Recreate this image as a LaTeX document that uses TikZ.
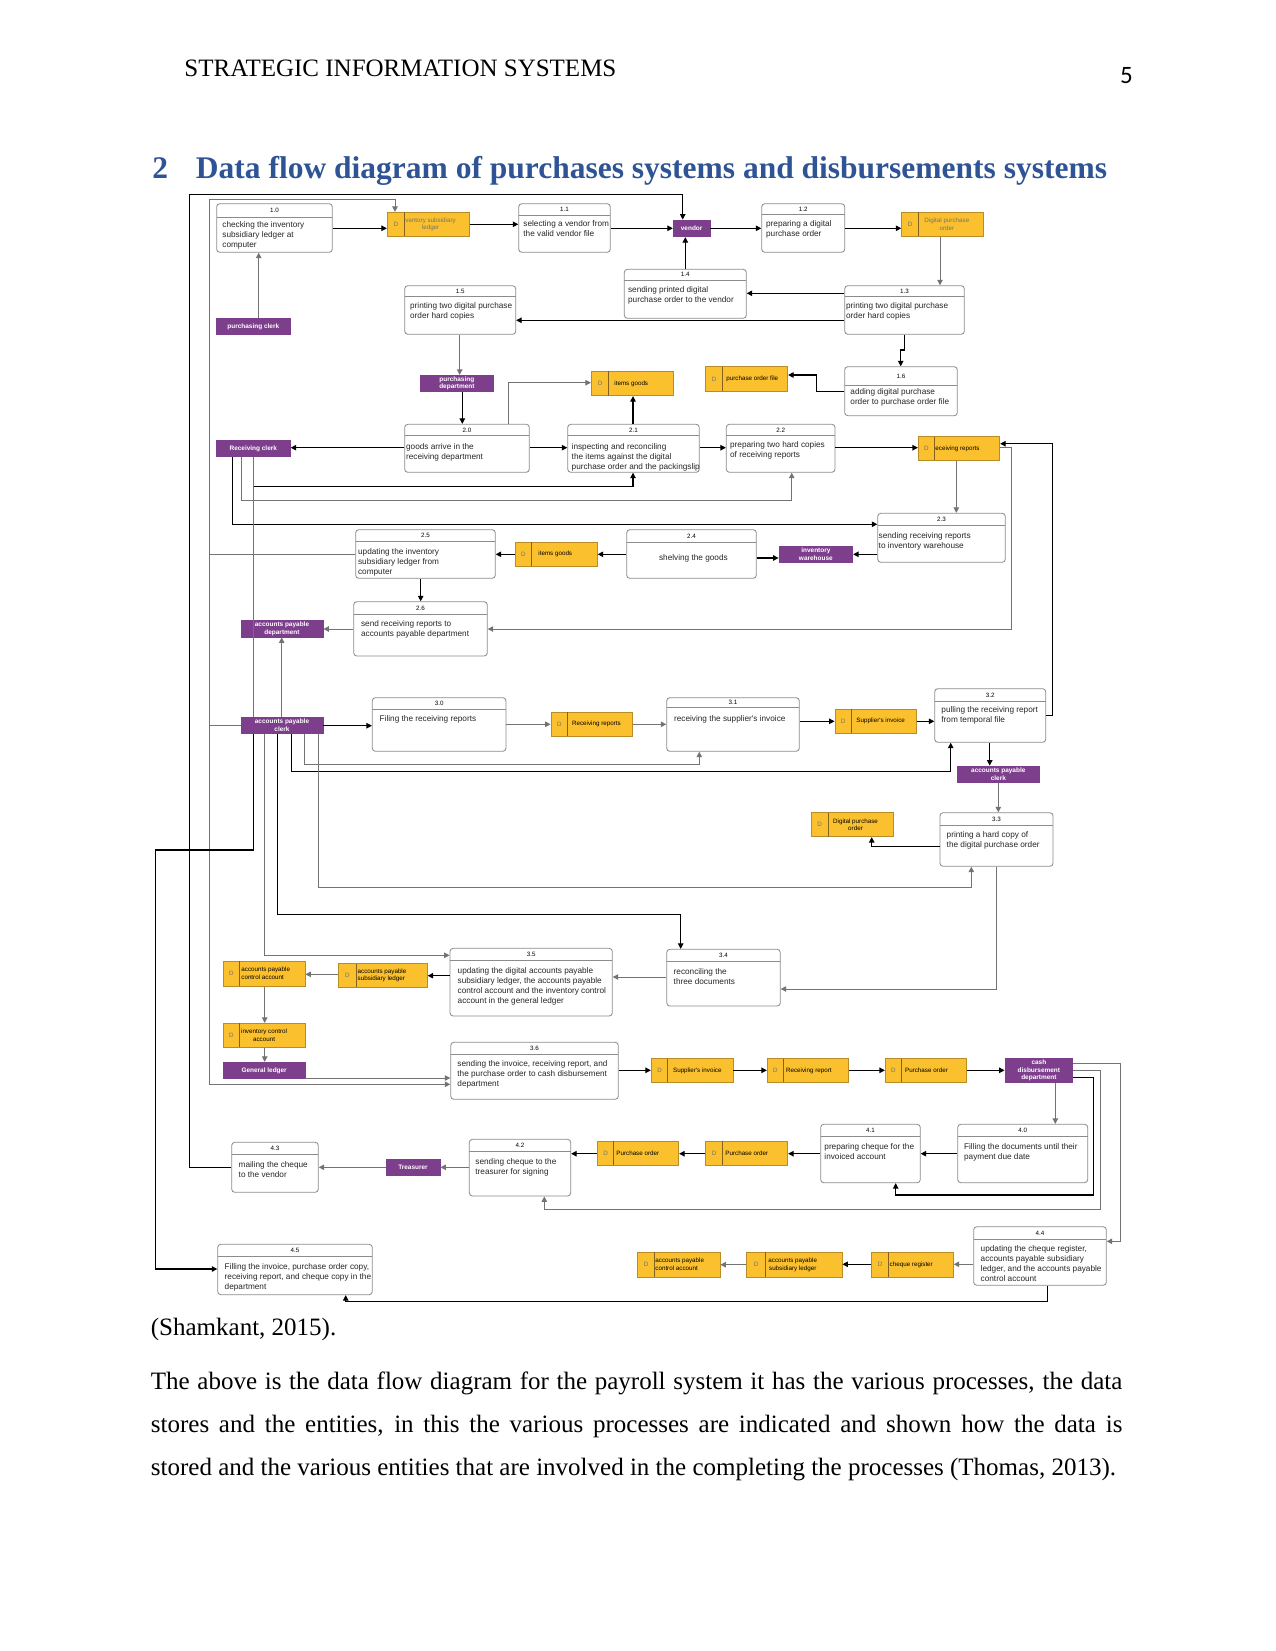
\documentclass[tikz,border=0pt]{standalone}
\usepackage{fontspec}
\setmainfont{Liberation Serif}
\newfontfamily\dsans{Liberation Sans}
\newfontfamily\calib{Carlito}
\usetikzlibrary{arrows.meta,fit}
\definecolor{hblue}{RGB}{47,84,150}
\definecolor{sty}{RGB}{251,192,45}
\definecolor{stb}{RGB}{185,140,40}
\definecolor{ent}{RGB}{125,62,140}
\tikzset{
 ln/.style={line width=0.5pt, draw=black},
 lg/.style={line width=0.45pt, draw=black!55},
 ar/.style={-{Triangle[length=2.6pt,width=2.6pt]}},
 pbox/.style={draw=black!45, line width=0.4pt, rounded corners=1.5pt, inner sep=0pt, fill=white},
 sbox/.style={draw=stb, fill=sty, line width=0.4pt, inner sep=0pt},
 ebox/.style={fill=ent, draw=ent, inner sep=0pt},
 ptxt/.style={inner sep=0pt, font=\dsans\fontsize{3.95}{4.8}\selectfont, text=black!85},
 ntxt/.style={inner sep=0pt, font=\dsans\fontsize{3}{3.6}\selectfont},
 stxt/.style={inner sep=0pt, font=\dsans\fontsize{3}{3.6}\selectfont, align=center},
 etxt/.style={inner sep=0pt, font=\dsans\bfseries\fontsize{3.1}{3.6}\selectfont, text=white, align=center},
}
\newcommand\tl[1]{\begin{tabular}[t]{@{}l@{}}#1\end{tabular}}
\newcommand\proc[9]{%
 \node[pbox, fit={(#2,#3)(#4,#5)}] (#1) {};
 \draw[black!45, line width=0.4pt] (#2,#6) -- (#4,#6);
 \node[ntxt] at ({(#2+#4)/2},{(#3+#6)/2}) {#7};
 \node[ptxt, anchor=base west] at (#8) {\tl{#9}};}
\newcommand\store[9]{%
 \node[sbox, fit={(#2,#3)(#4,#5)}] (#1) {};
 \draw[stb!70!black, line width=0.4pt] (#6,#3) -- (#6,#5);
 \node[stxt, text=black!55] at ({(#2+#6)/2},{(#3+#5)/2}) {D};
 \node[stxt, anchor=west, #8] at (#7,{(#3+#5)/2}) {#9};}
\newcommand\ent[6]{%
 \node[ebox, fit={(#2,#3)(#4,#5)}] (#1) {};
 \node[etxt] at (#1.center) {#6};}
\begin{document}
\begin{tikzpicture}[x=0.48pt,y=-0.48pt]
\useasboundingbox[fill=white] (0,0) rectangle (1275,1651);
% page header
\node[anchor=base west, inner sep=0pt, font=\fontsize{12}{14}\selectfont] (hdr) at (184,77) {STRATEGIC INFORMATION SYSTEMS};
\node[anchor=base, inner sep=0pt, font=\calib\fontsize{12}{14}\selectfont] (pg) at (1126.5,84) {5};
\node[anchor=base west, inner sep=0pt, font=\bfseries\fontsize{15.12}{18}\selectfont, text=hblue] (hnum) at (152,178.5) {2};
\node[anchor=base west, inner sep=0pt, font=\bfseries\fontsize{15.12}{18}\selectfont, text=hblue] (htitle) at (195.5,178.5) {Data flow diagram of purchases systems and disbursements systems};

% processes
\proc{p10}{216.7}{203.7}{332.3}{252.3}{217.7}{1.0}{222,227.7}{checking the inventory\\subsidiary ledger at\\computer}
\proc{p11}{518.7}{203.7}{610.3}{252.3}{215.7}{1.1}{523,227}{selecting a vendor from\\the valid vendor file}
\proc{p12}{761.7}{203.7}{844.7}{252.3}{214}{1.2}{765.7,227}{preparing a digital\\purchase order}
\proc{p13}{844.7}{285.7}{964.3}{334.3}{296.7}{1.3}{845.7,309}{printing two digital purchase\\order hard copies}
\proc{p14}{624.3}{269.3}{746.3}{318.3}{280}{1.4}{627.7,292}{sending printed digital\\purchase order to the vendor}
\proc{p15}{404.7}{285.7}{515.7}{334.3}{296.7}{1.5}{409.7,308}{printing two digital purchase\\order hard copies}
\proc{p16}{844.7}{366.7}{957.3}{415.7}{385.3}{1.6}{850,394}{adding digital purchase\\order to purchase order file}
\proc{p20}{404.7}{424.3}{529.3}{472.3}{435.7}{2.0}{405.7,449}{goods arrive in the\\receiving department}
\proc{p21}{567.7}{424.3}{699.3}{472.3}{435.7}{2.1}{571.3,449}{inspecting and reconciling\\the items against the digital\\purchase order and the packingslip}
\proc{p22}{726.3}{424.3}{835}{472.3}{435.7}{2.2}{729.7,447}{preparing two hard copies\\of receiving reports}
\proc{p23}{877.7}{513.3}{1005.3}{562.3}{525.3}{2.3}{878.3,538}{sending receiving reports\\to inventory warehouse}
\proc{p24}{626.7}{529.7}{756.3}{578.3}{542.3}{2.4}{658.7,560}{shelving the goods}
\proc{p25}{355.7}{529.7}{495.3}{578.3}{541.7}{2.5}{357.7,554.7}{updating the inventory\\subsidiary ledger from\\computer}
\proc{p26}{353.7}{601.7}{487.3}{656}{614.3}{2.6}{360.7,626.7}{send receiving reports to\\accounts payable department}
\proc{p30}{372.3}{697.7}{506}{751.3}{709}{3.0}{379.3,721.7}{Filing the receiving reports}
\proc{p31}{666.7}{697.7}{799.3}{751.3}{707}{3.1}{673.7,721.7}{receiving the supplier's invoice}
\proc{p32}{934.7}{688.7}{1045.7}{742.3}{701}{3.2}{941,712.7}{pulling the receiving report\\from temporal file}
\proc{p33}{940}{812.7}{1053}{866.3}{825.3}{3.3}{946.3,837}{printing a hard copy of\\the digital purchase order}
\proc{p34}{666.7}{949.3}{780.3}{1006}{961.3}{3.4}{673.3,974}{reconciling the\\three documents}
\proc{p35}{450}{948.3}{612.3}{1016}{960}{3.5}{457.3,973}{updating the digital accounts payable\\subsidiary ledger, the accounts payable\\control account and the inventory control\\account in the general ledger}
\proc{p36}{450.7}{1042.3}{618.3}{1099.3}{1054}{3.6}{457,1066.7}{sending the invoice, receiving report, and\\the purchase order to cash disbursement\\department}
\proc{p40}{957.7}{1124.3}{1087.7}{1182.7}{1136.7}{4.0}{963.7,1149.3}{Filling the documents until their\\payment due date}
\proc{p41}{820.7}{1124.3}{920.3}{1182.7}{1136.7}{4.1}{824,1149.3}{preparing cheque for the\\invoiced account}
\proc{p42}{469.3}{1139.3}{570.7}{1196}{1151}{4.2}{475,1164.3}{sending cheque to the\\treasurer for signing}
\proc{p43}{231.7}{1142.3}{318.3}{1192.3}{1154.3}{4.3}{238.3,1167}{mailing the cheque\\to the vendor}
\proc{p44}{973.7}{1226.7}{1106.3}{1285.3}{1239.3}{4.4}{980.3,1251}{updating the cheque register,\\accounts payable subsidiary\\ledger, and the accounts payable\\control account}
\proc{p45}{217.7}{1244.3}{372.3}{1294.7}{1256}{4.5}{224.3,1269.3}{Filling the invoice, purchase order copy,\\receiving report, and cheque copy in the\\department}

% data stores
\store{sisl}{387.3}{212.3}{469.3}{236.3}{404.3}{405}{text=black!55}{ventory subsidiary\\ledger}
\store{sdpo}{901.7}{212.3}{983}{236.3}{918.3}{924}{text=black!55}{Digital purchase\\order}
\store{spof}{705.7}{366.7}{787.7}{391.3}{722.3}{726}{}{purchase order file}
\store{sig1}{591.3}{371.3}{673.7}{395.7}{608.7}{614}{}{items goods}
\store{srr}{918.3}{436.7}{999.7}{460.3}{934.3}{935}{}{eceiving reports}
\store{sig2}{515.3}{542.3}{597.3}{566.3}{531.3}{538}{}{items goods}
\store{srr2}{551}{712.3}{632.7}{736.3}{567.7}{571.7}{}{Receiving reports}
\store{ssi}{835}{709}{916.3}{733.3}{851.3}{856}{}{Supplier's invoice}
\store{sdpo2}{811}{812.7}{893.3}{836.7}{828.3}{832.7}{}{Digital purchase\\order}
\store{sapsl}{338.3}{963.7}{427.3}{987.3}{356.7}{357.3}{}{\tl{accounts payable\\subsidiary ledger}}
\store{sapca}{223.3}{961.3}{305}{986.3}{239.3}{241}{}{\tl{accounts payable\\control account}}
\store{sica}{223.3}{1023.3}{305}{1047.3}{239.3}{240.7}{}{inventory control\\account}
\store{ssi2}{651.3}{1058.7}{733}{1082.3}{667.7}{672.7}{}{Supplier's invoice}
\store{srrep}{767.3}{1058.7}{848.7}{1082.3}{783.3}{785.7}{}{Receiving report}
\store{spo1}{885.3}{1058.7}{966.7}{1082.3}{901.3}{904.7}{}{Purchase order}
\store{spo2}{705.7}{1141.3}{787.7}{1165.3}{722.3}{725}{}{Purchase order}
\store{spo3}{597.3}{1141.3}{678.7}{1165.3}{613.7}{616}{}{Purchase order}
\store{schq}{871.7}{1252.3}{953.3}{1277}{888.7}{889.3}{}{cheque register}
\store{sapsl2}{746.7}{1252.3}{842}{1277.3}{765.3}{768}{}{accounts payable\\subsidiary ledger}
\store{sapca2}{637.7}{1252.3}{720}{1277.3}{654.3}{655}{}{\tl{accounts payable\\control account}}

% entities
\ent{evendor}{673.3}{220}{710}{236.7}{vendor}
\ent{epclerk}{216.3}{318}{290.3}{334.7}{purchasing clerk}
\ent{epdept}{420}{375.3}{493.7}{391.7}{purchasing\\department}
\ent{erclerk}{216.3}{440.3}{290.3}{456.7}{Receiving clerk}
\ent{ewh}{779}{546}{852.7}{562.7}{inventory\\warehouse}
\ent{eapdept}{241}{620.3}{323}{637}{accounts payable\\department}
\ent{eapclerk}{241}{717}{323}{733.7}{accounts payable\\clerk}
\ent{eapclerk2}{957.3}{766}{1039.3}{782.3}{accounts payable\\clerk}
\ent{egl}{223.3}{1062.3}{305}{1078.7}{General ledger}
\ent{ecash}{1005}{1058.7}{1072.7}{1082.3}{cash\\disbursement\\department}
\ent{etreas}{386}{1159.3}{440}{1175.7}{Treasurer}

% connectors
\draw[ln,ar] (p10.east |- 0,228.3) -- (sisl.west |- 0,228.3);
\draw[ln,ar] (sisl.east |- 0,224.3) -- (p11.west |- 0,224.3);
\draw[ln,ar] (p11.east |- 0,228.3) -- (evendor.west |- 0,228.3);
\draw[ln,ar] (evendor.east |- 0,228.3) -- (p12.west |- 0,228.3);
\draw[ln,ar] (p12.east |- 0,228.3) -- (sdpo.west |- 0,228.3);
\draw[lg,ar] (sdpo.south -| 940,0) -- (p13.north -| 940,0);
\draw[ln,ar] (p14.north -| 685.3,0) -- (evendor.south -| 685.3,0);
\draw[ln,ar] (p13.west |- 0,293.3) -- (p14.east |- 0,293.3);
\draw[ln,ar] (p13.west |- 0,320.3) -- (p15.east |- 0,320.3);
\draw[lg,ar] (epclerk.north -| 258.7,0) -- (p10.south -| 258.7,0);
\draw[lg,ar] (p15.south -| 459.7,0) -- (epdept.north -| 459.7,0);
\draw[ln,ar] (epdept.south -| 462.3,0) -- (p20.north -| 462.3,0);
\draw[ln,ar] (p13.south -| 904.7,0) -- (904.7,350) -- (900.7,350) -- (p16.north -| 900.7,0);
\draw[ln,ar] (p16.west |- 0,391.3) -- (816.3,391.3) -- (816.3,375) -- (spof.east |- 0,375);
\draw[lg,ar] (p20.north -| 508,0) -- (508,382.7) -- (sig1.west |- 0,382.7);
\draw[ln,ar] (p21.north -| 633,0) -- (sig1.south -| 633,0);
\draw[ln,ar] (p20.west |- 0,447.7) -- (erclerk.east |- 0,447.7);
\draw[ln,ar] (p20.east |- 0,447.7) -- (p21.west |- 0,447.7);
\draw[ln,ar] (p21.east |- 0,447.7) -- (p22.west |- 0,447.7);
\draw[ln,ar] (p22.east |- 0,447.7) -- (srr.west |- 0,447.7);
\draw[ln,ar] (p32.east |- 0,715.3) -- (1052.3,715.3) -- (1052.3,443.7) -- (srr.east |- 0,443.7);
\draw[lg,ar] (srr.east |- 0,447.7) -- (1011.3,447.7) -- (1011.3,629) -- (p26.east |- 0,629);
\draw[lg,ar] (srr.south -| 956.3,0) -- (p23.north -| 956.3,0);
\draw[ln,ar] (p23.west |- 0,554.3) -- (ewh.east |- 0,554.3);
\draw[ln,ar] (erclerk.south -| 232.3,0) -- (232.3,524.3) -- (p23.west |- 0,524.3);
\draw[lg,ar] (erclerk.south -| 241.7,0) -- (241.7,500.7) -- (791.7,500.7) -- (p22.south -| 791.7,0);
\draw[ln,ar] (erclerk.south -| 253.3,0) -- (253.3,486.3) -- (633,486.3) -- (p21.south -| 633,0);
\draw[lg] (erclerk.south -| 253.3,0) -- (eapclerk.north -| 253.3,0);
\draw[ln,ar] (p24.east |- 0,558) -- (ewh.west |- 0,558);
\draw[ln,ar] (p24.west |- 0,554.3) -- (sig2.east |- 0,554.3);
\draw[ln,ar] (sig2.west |- 0,554.3) -- (p25.east |- 0,554.3);
\draw[lg,ar] (p25.west |- 0,554.3) -- (209.3,554.3) -- (209.3,199.3) -- (395,199.3) -- (sisl.north -| 395,0);
\draw[ln,ar] (p25.south -| 420.7,0) -- (p26.north -| 420.7,0);
\draw[lg,ar] (p26.west |- 0,629) -- (eapdept.east |- 0,629);
\draw[lg,ar] (eapclerk.north -| 281.7,0) -- (eapdept.south -| 281.7,0);
\draw[ln,ar] (eapclerk.east |- 0,725.7) -- (p30.west |- 0,725.7);
\draw[lg] (p25.west |- 209.3,554.3) -- (209.3,554.3) -- (209.3,725.7);
\draw[lg,ar] (eapclerk.west |- 0,725.7) -- (209.3,725.7) -- (209.3,1084.3) -- (p36.west |- 0,1084.3);
\draw[lg,ar] (p30.east |- 0,724.3) -- (srr2.west |- 0,724.3);
\draw[lg,ar] (srr2.east |- 0,724.3) -- (p31.west |- 0,724.3);
\draw[ln,ar] (p31.east |- 0,721.3) -- (ssi.west |- 0,721.3);
\draw[ln,ar] (ssi.east |- 0,721.3) -- (p32.west |- 0,721.3);
\draw[ln,ar] (p32.south -| 989.7,0) -- (eapclerk2.north -| 989.7,0);
\draw[lg,ar] (eapclerk2.south -| 998.3,0) -- (p33.north -| 998.3,0);
\draw[ln,ar] (p33.west |- 0,846.3) -- (871.7,846.3) -- (sdpo2.south -| 871.7,0);
\draw[lg,ar] (p33.south -| 996.3,0) -- (996.3,989) -- (p34.east |- 0,989);
\draw[lg,ar] (p34.west |- 0,977) -- (p35.east |- 0,977);
\draw[ln,ar] (p35.west |- 0,975.7) -- (sapsl.east |- 0,975.7);
\draw[lg,ar] (sapsl.west |- 0,974.3) -- (sapca.east |- 0,974.3);
\draw[lg,ar] (sapca.south -| 264.7,0) -- (sica.north -| 264.7,0);
\draw[lg,ar] (sica.south -| 264.7,0) -- (egl.north -| 264.7,0);
\draw[lg,ar] (egl.east |- 0,1078) -- (p36.west |- 0,1078);
\draw[lg,ar] (eapclerk.south -| 304.3,0) -- (304.3,764) -- (699.3,764) -- (p31.south -| 699.3,0);
\draw[ln,ar] (eapclerk.south -| 291.3,0) -- (291.3,771.3) -- (950.7,771.3) -- (p32.south -| 950.7,0);
\draw[lg,ar] (eapclerk.south -| 318.3,0) -- (318.3,887) -- (971.3,887) -- (p33.south -| 971.3,0);
\draw[ln,ar] (eapclerk.south -| 277.7,0) -- (277.7,914.3) -- (680.7,914.3) -- (p34.north -| 680.7,0);
\draw[lg,ar] (eapclerk.south -| 264.7,0) -- (264.7,955.3) -- (p35.west |- 0,955.3);
\draw[ln,ar] (eapclerk.south -| 253.3,0) -- (253.3,850) -- (155.7,850) -- (155.7,1269) -- (p45.west |- 0,1269);
\draw[ln,ar] (p36.east |- 0,1070.3) -- (ssi2.west |- 0,1070.3);
\draw[ln,ar] (ssi2.east |- 0,1070.3) -- (srrep.west |- 0,1070.3);
\draw[ln,ar] (srrep.east |- 0,1070.3) -- (spo1.west |- 0,1070.3);
\draw[ln,ar] (spo1.east |- 0,1070.3) -- (ecash.west |- 0,1070.3);
\draw[lg,ar] (ecash.south -| 1055.3,0) -- (p40.north -| 1055.3,0);
\draw[ln,ar] (p40.west |- 0,1153.7) -- (p41.east |- 0,1153.7);
\draw[ln,ar] (ecash.east |- 0,1077.3) -- (1093.3,1077.3) -- (1093.3,1195) -- (895.7,1195) -- (p41.south -| 895.7,0);
\draw[lg,ar] (ecash.east |- 0,1070.3) -- (1100,1070.3) -- (1100,1209.3) -- (544.3,1209.3) -- (p42.south -| 544.3,0);
\draw[lg,ar] (ecash.east |- 0,1063.3) -- (1120.3,1063.3) -- (1120.3,1241.3) -- (p44.east |- 0,1241.3);
\draw[ln,ar] (p41.west |- 0,1153.7) -- (spo2.east |- 0,1153.7);
\draw[ln,ar] (spo2.west |- 0,1153.7) -- (spo3.east |- 0,1153.7);
\draw[ln,ar] (spo3.west |- 0,1153.7) -- (p42.east |- 0,1153.7);
\draw[lg,ar] (p42.west |- 0,1167.3) -- (etreas.east |- 0,1167.3);
\draw[lg,ar] (etreas.west |- 0,1167.3) -- (p43.east |- 0,1167.3);
\draw[ln,ar] (p43.west |- 0,1167.3) -- (189.3,1167.3) -- (189.3,194.3) -- (682.7,194.3) -- (evendor.north -| 682.7,0);
\draw[lg,ar] (p44.west |- 0,1264.3) -- (schq.east |- 0,1264.3);
\draw[ln,ar] (schq.west |- 0,1264.3) -- (sapsl2.east |- 0,1264.3);
\draw[lg,ar] (sapsl2.west |- 0,1264.7) -- (sapca2.east |- 0,1264.7);
\draw[ln,ar] (p44.south -| 1047.7,0) -- (1047.7,1301.7) -- (345.7,1301.7) -- (p45.south -| 345.7,0);

% text below
\node[anchor=base west, inner sep=0pt, font=\fontsize{12}{14}\selectfont] (cite) at (150.5,1335) {(Shamkant, 2015).};
\node[anchor=base west, inner sep=0pt, font=\fontsize{12}{14}\selectfont] (l1) at (150.5,1389) {\makebox[466.3pt][s]{The above is the data flow diagram for the payroll system it has the various processes, the data}};
\node[anchor=base west, inner sep=0pt, font=\fontsize{12}{14}\selectfont] (l2) at (150.5,1432) {\makebox[466.3pt][s]{stores and the entities, in this the various processes are indicated and shown how the data is}};
\node[anchor=base west, inner sep=0pt, font=\fontsize{12}{14}\selectfont] (l3) at (150.5,1475) {stored and the various entities that are involved in the completing the processes (Thomas, 2013).};
\end{tikzpicture}
\end{document}
